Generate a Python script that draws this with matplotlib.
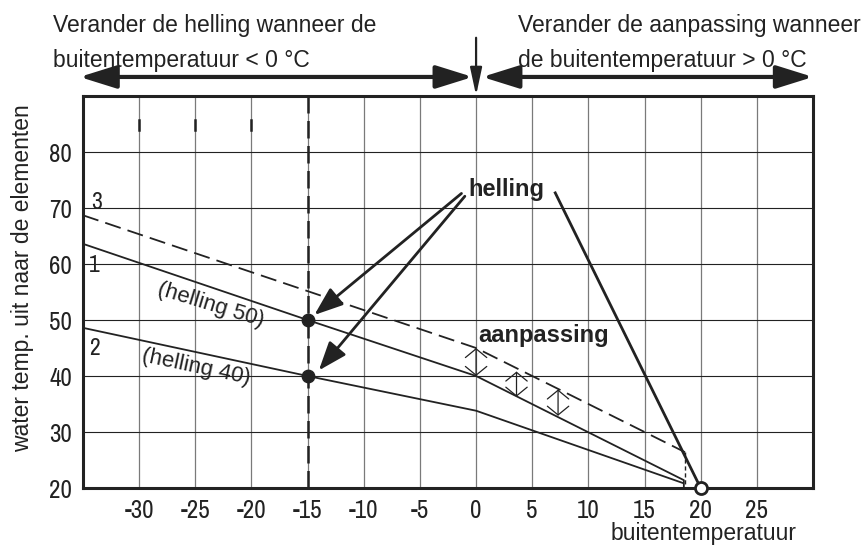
import matplotlib
matplotlib.use("Agg")
import matplotlib.pyplot as plt
from matplotlib import font_manager

# curve data
line1_x = [-35, -15, 0, 18.5, 18.5]
line1_y = [63.6, 50, 40, 21.4, 20]
line2_x = [-35, -15, 0, 18.4]
line2_y = [48.6, 40, 33.8, 20.9]
line3_x = [-35, 0, 18.6]
line3_y = [68.7, 45, 26.4]
drop3_x = [18.6, 18.6]
drop3_y = [26.4, 20]
steep_x = [7.05, 19.75]
steep_y = [72.7, 21.0]

dots_x = [-15, -15]
dots_y = [50, 40]
origin_pt = (20, 20)

# aanpassing double arrows
adj_x = [0, 3.6, 7.3]
adj_low = [40, 36.3, 32.9]
adj_high = [45, 40.8, 37.6]

# helling pointer arrows
hel_start = [(-1.3, 72.6), (-1.0, 72.1)]
hel_end = [(-14.4, 50.9), (-14.0, 41.0)]

xticks = [-30, -25, -20, -15, -10, -5, 0, 5, 10, 15, 20, 25]
xtick_labels = ["-30", "-25", "-20", "-15", "-10", "-5", "0", "5", "10", "15", "20", "25"]
yticks = [20, 30, 40, 50, 60, 70, 80]
ytick_labels = ["20", "30", "40", "50", "60", "70", "80"]

plt.rcParams["font.family"] = ["Liberation Sans", "DejaVu Sans"]
ink = "#222222"

# look for a condensed face for the numbers
narrow = None
stretch = "normal"
for f in font_manager.fontManager.ttflist:
    if "Narrow" in f.name or "Condensed" in f.name:
        narrow = f.name
        break
if narrow is None:
    for f in font_manager.fontManager.ttflist:
        if f.stretch in ("condensed", "semi-condensed", 600, 700) and f.style == "normal":
            narrow = f.name
            stretch = "condensed"
            break
if narrow is None:
    num_font = dict(family=["Liberation Sans", "DejaVu Sans"], fontsize=17)
else:
    num_font = dict(family=[narrow, "DejaVu Sans"], fontstretch=stretch, fontsize=18)

fig = plt.figure(figsize=(8.66, 5.47), dpi=100)
ax = fig.add_axes([83 / 866, (547 - 488) / 547, 730 / 866, 392 / 547])
ax.set_xlim(-35, 30)
ax.set_ylim(20, 90)

# grid
for x in xticks:
    ax.axvline(x, color="#7a7a7a", lw=0.9, zorder=1)
for y in yticks[1:]:
    ax.axhline(y, color=ink, lw=0.8, zorder=1)
for x in [-30, -25, -20]:
    ax.plot([x, x], [83.9, 85.7], color=ink, lw=1.8, zorder=2)

for s in ax.spines.values():
    s.set_linewidth(2.2)
    s.set_color(ink)
ax.set_xticks(xticks)
ax.set_xticklabels(xtick_labels, color=ink, **num_font)
ax.set_yticks(yticks)
ax.set_yticklabels(ytick_labels, color=ink, **num_font)
ax.tick_params(length=0)
ax.tick_params(axis="x", pad=8)
ax.tick_params(axis="y", pad=8)

# vertical dashed at -15
ax.plot([-15, -15], [20, 90], color=ink, lw=1.8, dashes=(7, 3), zorder=3)

# curves
ax.plot(line1_x, line1_y, color=ink, lw=1.3, zorder=4)
ax.plot(line2_x, line2_y, color=ink, lw=1.3, zorder=4)
ax.plot(line3_x, line3_y, color=ink, lw=1.3, dashes=(9, 4), zorder=4)
ax.plot(drop3_x, drop3_y, color=ink, lw=1.0, dashes=(3, 2), zorder=4)
ax.plot(steep_x, steep_y, color=ink, lw=2.0, zorder=4)

ax.scatter(dots_x, dots_y, s=80, color=ink, zorder=6)
ax.scatter([origin_pt[0]], [origin_pt[1]], s=75, facecolor="white",
           edgecolor=ink, linewidth=2, zorder=6, clip_on=False)

for x, lo, hi in zip(adj_x, adj_low, adj_high):
    ax.annotate("", xy=(x, hi), xytext=(x, lo),
                arrowprops=dict(arrowstyle="<->,head_length=0.45,head_width=0.55",
                                lw=0.9, color=ink, mutation_scale=14,
                                shrinkA=0, shrinkB=0), zorder=5)

for (x0, y0), (x1, y1) in zip(hel_start, hel_end):
    ax.annotate("", xy=(x1, y1), xytext=(x0, y0),
                arrowprops=dict(arrowstyle="-|>,head_length=0.8,head_width=0.3",
                                lw=2.0, color=ink, mutation_scale=22,
                                shrinkA=0, shrinkB=0), zorder=5)

# labels in plot
ax.text(-0.7, 72.1, "helling", fontsize=17, fontweight="bold", color=ink,
        ha="left", va="baseline", zorder=7)
ax.text(0.18, 46.1, "aanpassing", fontsize=17, fontweight="bold", color=ink,
        ha="left", va="baseline", zorder=7)
ax.text(-23.6, 52.6, "(helling 50)", fontsize=16, color=ink, rotation=-17,
        rotation_mode="anchor", ha="center", va="center", zorder=7)
ax.text(-24.9, 41.6, "(helling 40)", fontsize=16, color=ink, rotation=-12,
        rotation_mode="anchor", ha="center", va="center", zorder=7)
label_font = dict(num_font, fontsize=17)
ax.text(-33.8, 70.9, "3", color=ink, ha="center", va="center", **label_font)
ax.text(-34.0, 59.8, "1", color=ink, ha="center", va="center", **label_font)
ax.text(-34.0, 44.9, "2", color=ink, ha="center", va="center", **label_font)

# axis titles
ax.text(20.3, 10.7, "buitentemperatuur", fontsize=16.5, color=ink,
        ha="center", va="baseline", clip_on=False)
fig.text(23 / 866, (547 - 278) / 547, "water temp. uit naar de elementen",
         fontsize=16.5, color=ink, rotation=90, ha="center", va="center")

# top annotations
fig.text(53 / 866, (547 - 32) / 547, "Verander de helling wanneer de",
         fontsize=16.5, color=ink, ha="left", va="baseline")
fig.text(53 / 866, (547 - 67) / 547, "buitentemperatuur < 0 °C",
         fontsize=16.5, color=ink, ha="left", va="baseline")
fig.text(518 / 866, (547 - 32) / 547, "Verander de aanpassing wanneer",
         fontsize=16.5, color=ink, ha="left", va="baseline")
fig.text(518 / 866, (547 - 67) / 547, "de buitentemperatuur > 0 °C",
         fontsize=16.5, color=ink, ha="left", va="baseline")

big = dict(arrowstyle="<|-|>,head_length=1.6,head_width=0.5", lw=3.0,
           color=ink, mutation_scale=14, shrinkA=0, shrinkB=0)
ax.annotate("", xy=(-35.3, 93.4), xytext=(-0.3, 93.4), arrowprops=big,
            annotation_clip=False)
ax.annotate("", xy=(0.55, 93.4), xytext=(30.0, 93.4), arrowprops=big,
            annotation_clip=False)
ax.annotate("", xy=(0, 90.1), xytext=(0, 100.4),
            arrowprops=dict(arrowstyle="-|>,head_length=1.4,head_width=0.3",
                            lw=1.6, color=ink, mutation_scale=12,
                            shrinkA=0, shrinkB=0), annotation_clip=False)

fig.savefig("out.png", dpi=100)
